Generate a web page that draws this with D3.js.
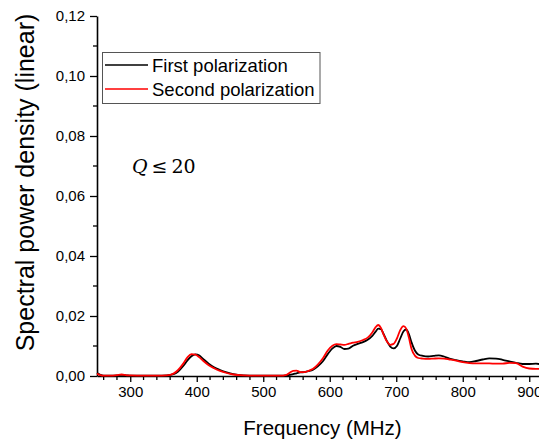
<!DOCTYPE html>
<html>
<head>
<meta charset="utf-8">
<script src="https://cdn.jsdelivr.net/npm/d3@7"></script>
<style>
  html, body { margin: 0; padding: 0; background: #fff; }
  svg { display: block; }
</style>
</head>
<body>
<svg id="chart" width="539" height="441"></svg>
<script>
// Frequency grid (MHz) shared by both polarizations
const freq = [250,255,260,270,280,287,295,300,320,340,355,365,372,380,386,392,398,404,410,418,426,435,445,455,470,490,510,525,535,540,545,550,556,562,568,575,582,590,597,604,610,616,622,628,635,642,650,657,664,669,673,677,681,686,691,696,701,706,711,715,719,723,728,733,740,748,756,764,772,780,790,800,810,820,830,840,850,860,870,880,890,900,910,915];

// Spectral power density, first polarization
const firstPol = [0.0010,0.0004,0.0001,0.0001,0.0002,0.0004,0.0002,0.0001,0.0001,0.0001,0.0002,0.0006,0.0015,0.0034,0.0052,0.0066,0.0072,0.0068,0.0056,0.0041,0.0029,0.0020,0.0012,0.0006,0.0002,0.0001,0.0001,0.0001,0.0002,0.0004,0.0006,0.0009,0.0012,0.0013,0.0016,0.0021,0.0032,0.0050,0.0073,0.0092,0.0100,0.0097,0.0090,0.0091,0.0101,0.0107,0.0113,0.0121,0.0134,0.0148,0.0158,0.0156,0.0140,0.0116,0.0098,0.0092,0.0100,0.0125,0.0149,0.0155,0.0140,0.0112,0.0085,0.0072,0.0067,0.0065,0.0067,0.0069,0.0065,0.0058,0.0053,0.0049,0.0046,0.0050,0.0055,0.0059,0.0058,0.0054,0.0049,0.0044,0.0040,0.0040,0.0041,0.0040];

// Spectral power density, second polarization
const secondPol = [0.0008,0.0003,0.0001,0.0001,0.0003,0.0005,0.0002,0.0002,0.0001,0.0001,0.0002,0.0008,0.0020,0.0042,0.0062,0.0073,0.0071,0.0062,0.0050,0.0036,0.0026,0.0017,0.0010,0.0005,0.0002,0.0001,0.0001,0.0001,0.0004,0.0011,0.0017,0.0018,0.0013,0.0013,0.0017,0.0024,0.0038,0.0060,0.0085,0.0101,0.0106,0.0105,0.0104,0.0107,0.0111,0.0114,0.0120,0.0128,0.0145,0.0163,0.0170,0.0160,0.0138,0.0115,0.0104,0.0107,0.0125,0.0153,0.0166,0.0158,0.0128,0.0090,0.0068,0.0060,0.0058,0.0057,0.0058,0.0059,0.0058,0.0055,0.0051,0.0046,0.0043,0.0042,0.0042,0.0042,0.0041,0.0041,0.0044,0.0043,0.0031,0.0025,0.0024,0.0024];

const seriesNames = ["First polarization", "Second polarization"];
const seriesColors = ["#000000", "#ff0000"];

const xMajorTicks = [300, 400, 500, 600, 700, 800, 900];
const yMajorTicks = [0, 0.02, 0.04, 0.06, 0.08, 0.10, 0.12];

const svg = d3.select("#chart");
const font = "'Liberation Sans', Arial, sans-serif";

const x = d3.scaleLinear().domain([250, 930]).range([97, 549.2]);
const y = d3.scaleLinear().domain([0, 0.12]).range([376, 16]);

const fmtY = v => d3.format(".2f")(v).replace(".", ",");

// Minor ticks
const xMinor = d3.range(260, 940, 20).filter(v => v % 100 !== 0);
const yMinor = d3.range(0.01, 0.12, 0.02);

// X axis
const xAxisG = svg.append("g").attr("transform", `translate(0,${y(0)})`);
xAxisG.call(d3.axisBottom(x).tickValues(xMajorTicks).tickSize(6).tickSizeOuter(0).tickPadding(4).tickFormat(d3.format("d")));
xAxisG.append("g").selectAll("line").data(xMinor).join("line")
  .attr("x1", d => x(d)).attr("x2", d => x(d)).attr("y1", 0).attr("y2", 4)
  .attr("stroke", "#000").attr("stroke-width", 1.3);
xAxisG.select(".domain").attr("stroke-width", 1.6);
xAxisG.selectAll(".tick line").attr("stroke-width", 1.3);
xAxisG.selectAll(".tick text").attr("font-family", font).attr("font-size", 15).attr("fill", "#000");

// Y axis
const yAxisG = svg.append("g").attr("transform", `translate(${x(250)},0)`);
yAxisG.call(d3.axisLeft(y).tickValues(yMajorTicks).tickSize(7).tickSizeOuter(0).tickPadding(5).tickFormat(fmtY));
yAxisG.append("g").selectAll("line").data(yMinor).join("line")
  .attr("x1", 0).attr("x2", -4).attr("y1", d => y(d)).attr("y2", d => y(d))
  .attr("stroke", "#000").attr("stroke-width", 1.3);
yAxisG.select(".domain").attr("stroke-width", 1.6);
yAxisG.selectAll(".tick line").attr("stroke-width", 1.3);
yAxisG.selectAll(".tick text").attr("font-family", font).attr("font-size", 15).attr("fill", "#000");

// Curves
const line = d3.line()
  .x(d => x(d[0]))
  .y(d => y(d[1]))
  .curve(d3.curveMonotoneX);

[firstPol, secondPol].forEach((vals, i) => {
  svg.append("path")
    .datum(freq.map((f, k) => [f, vals[k]]))
    .attr("d", line)
    .attr("fill", "none")
    .attr("stroke", seriesColors[i])
    .attr("stroke-width", 1.8)
    .attr("stroke-linejoin", "round");
});

// Legend
const legend = svg.append("g");
legend.append("rect")
  .attr("x", 102.5).attr("y", 52.5).attr("width", 217.5).attr("height", 51)
  .attr("fill", "#fff").attr("stroke", "#555").attr("stroke-width", 1);
seriesNames.forEach((name, i) => {
  const ly = 65 + i * 24;
  legend.append("line")
    .attr("x1", 105).attr("x2", 148).attr("y1", ly).attr("y2", ly)
    .attr("stroke", seriesColors[i]).attr("stroke-width", 1.6);
  legend.append("text")
    .attr("x", 152).attr("y", ly + 6.5)
    .attr("font-family", font).attr("font-size", 18.5).attr("fill", "#000")
    .text(name);
});

// Quality factor annotation
const q = svg.append("text")
  .attr("x", 132).attr("y", 173)
  .attr("font-family", "'DejaVu Serif', 'Liberation Serif', serif")
  .attr("font-size", 19).attr("fill", "#000");
q.append("tspan").attr("font-style", "italic").text("Q");
q.append("tspan").attr("dx", 4).text("≤");
q.append("tspan").attr("dx", 4).text("20");

// Axis titles
svg.append("text")
  .attr("x", 322.5).attr("y", 435)
  .attr("text-anchor", "middle")
  .attr("font-family", font).attr("font-size", 20.5).attr("fill", "#000")
  .text("Frequency (MHz)");

svg.append("text")
  .attr("transform", "translate(34,182.5) rotate(-90)")
  .attr("text-anchor", "middle")
  .attr("font-family", font).attr("font-size", 25).attr("fill", "#000")
  .text("Spectral power density (linear)");
</script>
</body>
</html>
